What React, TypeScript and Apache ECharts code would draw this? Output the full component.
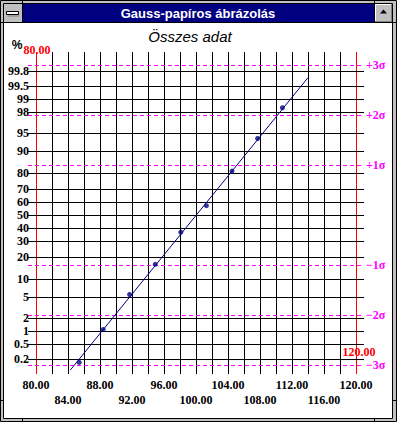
import { useEffect, useRef } from "react";
import * as echarts from "echarts";

const windowTitle = "Gauss-papíros ábrázolás";
const chartTitle = "Összes adat";
const xMin = 80;
const xMax = 120;
const xStep = 2;
const xLabelRow1 = [80, 88, 96, 104, 112, 120];
const xLabelRow2 = [84, 92, 100, 108, 116];
const probTicks = [0.2, 0.5, 1, 2, 5, 10, 20, 30, 40, 50, 60, 70, 80, 90, 95, 98, 99, 99.5, 99.8];
const sigmaLevels = [3, 2, 1, -1, -2, -3];
const sigmaLabels = ["+3σ", "+2σ", "+1σ", "−1σ", "−2σ", "−3σ"];
const pointX = [85.4, 88.4, 91.7, 94.9, 98.1, 101.3, 104.5, 107.7, 110.8];
const pointPct = [0.16, 1.1, 5.6, 16.2, 36.5, 57.4, 81.0, 93.7, 98.4];
const fitX = [84.3, 114.0];
const fitPct = [0.097, 99.7];
const zMin = -3.18;
const zMax = 3.26;

function probit(p: number): number {
  const a = [-3.969683028665376e1, 2.209460984245205e2, -2.759285104469687e2, 1.38357751867269e2, -3.066479806614716e1, 2.506628277459239];
  const b = [-5.447609879822406e1, 1.615858368580409e2, -1.556989798598866e2, 6.680131188771972e1, -1.328068155288572e1];
  const c = [-7.784894002430293e-3, -3.223964580411365e-1, -2.400758277161838, -2.549732539343734, 4.374664141464968, 2.938163982698783];
  const d = [7.784695709041462e-3, 3.224671290700398e-1, 2.445134137142996, 3.754408661907416];
  const pl = 0.02425;
  if (p < pl) {
    const q = Math.sqrt(-2 * Math.log(p));
    return (((((c[0] * q + c[1]) * q + c[2]) * q + c[3]) * q + c[4]) * q + c[5]) / ((((d[0] * q + d[1]) * q + d[2]) * q + d[3]) * q + 1);
  }
  if (p > 1 - pl) {
    const q = Math.sqrt(-2 * Math.log(1 - p));
    return -(((((c[0] * q + c[1]) * q + c[2]) * q + c[3]) * q + c[4]) * q + c[5]) / ((((d[0] * q + d[1]) * q + d[2]) * q + d[3]) * q + 1);
  }
  const q = p - 0.5;
  const r = q * q;
  return ((((((a[0] * r + a[1]) * r + a[2]) * r + a[3]) * r + a[4]) * r + a[5]) * q) / (((((b[0] * r + b[1]) * r + b[2]) * r + b[3]) * r + b[4]) * r + 1);
}

const NUM_FONT = 'bold 12px "Liberation Serif", "DejaVu Serif", serif';

export default function App() {
  const ref = useRef<HTMLDivElement>(null);
  useEffect(() => {
    if (!ref.current) return;
    const chart = echarts.init(ref.current, undefined, { renderer: "svg" });
    const nLines = Math.round((xMax - xMin) / xStep) + 1;
    const splitColors: string[] = [];
    for (let i = 0; i < nLines; i++) splitColors.push(i === 0 || i === nLines - 1 ? "#ff0000" : "#000000");

    const option: any = {
      animation: false,
      backgroundColor: "#ffffff",
      grid: { left: 36, top: 52, width: 320, height: 322, containLabel: false },
      xAxis: [
        {
          type: "value",
          min: xMin,
          max: xMax,
          interval: xStep,
          axisLine: { show: false },
          axisTick: { show: false },
          splitLine: { show: true, lineStyle: { color: splitColors, width: 1 } },
          axisLabel: {
            margin: 5,
            color: "#000",
            fontFamily: '"Liberation Serif", serif',
            fontWeight: "bold",
            fontSize: 12,
            formatter: (v: number) => (xLabelRow1.includes(v) ? v.toFixed(2) : ""),
          },
        },
        {
          type: "value",
          position: "bottom",
          offset: 15,
          min: xMin,
          max: xMax,
          interval: xStep,
          axisLine: { show: false },
          axisTick: { show: false },
          splitLine: { show: false },
          axisLabel: {
            margin: 5,
            color: "#000",
            fontFamily: '"Liberation Serif", serif',
            fontWeight: "bold",
            fontSize: 12,
            formatter: (v: number) => (xLabelRow2.includes(v) ? v.toFixed(2) : ""),
          },
        },
      ],
      yAxis: { type: "value", min: zMin, max: zMax, show: false },
      series: [
        {
          type: "custom",
          name: "grid",
          clip: false,
          silent: true,
          z: 1,
          data: probTicks.map((p) => [p]),
          renderItem: (_params: any, api: any) => {
            const p = api.value(0) as number;
            const z = probit(p / 100);
            const a = api.coord([xMin - 1, z]);
            const b = api.coord([xMax + 1, z]);
            const y = Math.round(a[1]) + 0.5;
            return {
              type: "group",
              children: [
                { type: "line", shape: { x1: Math.round(a[0]), y1: y, x2: Math.round(b[0]), y2: y }, style: { stroke: "#000", lineWidth: 1 } },
                { type: "text", x: a[0] + 1, y: a[1], style: { text: String(p), align: "right", verticalAlign: "middle", font: NUM_FONT, fill: "#000" } },
              ],
            };
          },
        },
        {
          type: "custom",
          name: "sigma",
          clip: false,
          silent: true,
          z: 2,
          data: sigmaLevels.map((s, i) => [s, i]),
          renderItem: (_params: any, api: any) => {
            const s = api.value(0) as number;
            const i = api.value(1) as number;
            const a = api.coord([xMin - 1, s]);
            const b = api.coord([xMax + 1, s]);
            const y = Math.round(a[1]) + 0.5;
            return {
              type: "group",
              children: [
                { type: "line", shape: { x1: Math.round(a[0]), y1: y, x2: Math.round(b[0]), y2: y }, style: { stroke: "#ff00ff", lineWidth: 1, lineDash: [4, 3] } },
                { type: "text", x: b[0] + 2, y: a[1], style: { text: sigmaLabels[i], align: "left", verticalAlign: "middle", font: NUM_FONT, fill: "#ff00ff" } },
              ],
            };
          },
        },
        {
          type: "line",
          name: "fit",
          z: 3,
          symbol: "none",
          lineStyle: { color: "#000080", width: 1 },
          data: fitX.map((x, i) => [x, probit(fitPct[i] / 100)]),
        },
        {
          type: "scatter",
          name: "data",
          z: 4,
          symbol: "circle",
          symbolSize: 5,
          itemStyle: { color: "#000080" },
          data: pointX.map((x, i) => [x, probit(pointPct[i] / 100)]),
        },
      ],
      graphic: [
        // outer frame
        { type: "rect", shape: { x: 1, y: 1, width: 395, height: 2 }, style: { fill: "#c0c0c0" } },
        { type: "rect", shape: { x: 1, y: 419, width: 395, height: 2 }, style: { fill: "#c0c0c0" } },
        { type: "rect", shape: { x: 1, y: 1, width: 2, height: 420 }, style: { fill: "#c0c0c0" } },
        { type: "rect", shape: { x: 393, y: 1, width: 3, height: 420 }, style: { fill: "#c0c0c0" } },
        { type: "rect", shape: { x: 0.5, y: 0.5, width: 396, height: 421 }, style: { fill: "none", stroke: "#000", lineWidth: 1 } },
        { type: "rect", shape: { x: 3.5, y: 3.5, width: 389, height: 415 }, style: { fill: "none", stroke: "#000", lineWidth: 1 } },
        { type: "line", shape: { x1: 22.5, y1: 0, x2: 22.5, y2: 4 }, style: { stroke: "#000" } },
        { type: "line", shape: { x1: 374.5, y1: 0, x2: 374.5, y2: 4 }, style: { stroke: "#000" } },
        { type: "line", shape: { x1: 22.5, y1: 418, x2: 22.5, y2: 422 }, style: { stroke: "#000" } },
        { type: "line", shape: { x1: 374.5, y1: 418, x2: 374.5, y2: 422 }, style: { stroke: "#000" } },
        { type: "line", shape: { x1: 0, y1: 22.5, x2: 4, y2: 22.5 }, style: { stroke: "#000" } },
        { type: "line", shape: { x1: 393, y1: 22.5, x2: 397, y2: 22.5 }, style: { stroke: "#000" } },
        { type: "line", shape: { x1: 0, y1: 400.5, x2: 4, y2: 400.5 }, style: { stroke: "#000" } },
        { type: "line", shape: { x1: 393, y1: 400.5, x2: 397, y2: 400.5 }, style: { stroke: "#000" } },
        // title bar
        { type: "rect", shape: { x: 4, y: 4, width: 388, height: 18 }, style: { fill: "#000080" } },
        { type: "line", shape: { x1: 3, y1: 22.5, x2: 393, y2: 22.5 }, style: { stroke: "#000" } },
        // system menu box
        { type: "rect", shape: { x: 4, y: 4, width: 18, height: 18 }, style: { fill: "#c0c0c0" } },
        { type: "line", shape: { x1: 22.5, y1: 4, x2: 22.5, y2: 22 }, style: { stroke: "#000" } },
        { type: "rect", shape: { x: 7.5, y: 15.5, width: 12, height: 1 }, style: { fill: "#808080" } },
        { type: "rect", shape: { x: 6.5, y: 11.5, width: 12, height: 3 }, style: { fill: "#ffffff", stroke: "#000", lineWidth: 1 } },
        // maximize button
        { type: "rect", shape: { x: 375, y: 4, width: 17, height: 18 }, style: { fill: "#c0c0c0" } },
        { type: "line", shape: { x1: 374.5, y1: 4, x2: 374.5, y2: 22 }, style: { stroke: "#000" } },
        { type: "line", shape: { x1: 375, y1: 4.5, x2: 391, y2: 4.5 }, style: { stroke: "#ffffff" } },
        { type: "line", shape: { x1: 375.5, y1: 4, x2: 375.5, y2: 21 }, style: { stroke: "#ffffff" } },
        { type: "line", shape: { x1: 375, y1: 21.5, x2: 392, y2: 21.5 }, style: { stroke: "#808080" } },
        { type: "line", shape: { x1: 391.5, y1: 4, x2: 391.5, y2: 22 }, style: { stroke: "#808080" } },
        { type: "polygon", shape: { points: [[380, 13.5], [387, 13.5], [383.5, 9.5]] }, style: { fill: "#000" } },
        {
          type: "text",
          x: 198,
          y: 13,
          style: { text: windowTitle, align: "center", verticalAlign: "middle", font: 'bold 13px "Liberation Sans", Arial, sans-serif', fill: "#ffffff" },
        },
        // chart texts
        {
          type: "text",
          x: 190,
          y: 36,
          style: { text: chartTitle, align: "center", verticalAlign: "middle", font: 'italic 15px "Liberation Sans", Arial, sans-serif', fill: "#000" },
        },
        { type: "text", x: 17, y: 45, style: { text: "%", align: "center", verticalAlign: "middle", font: 'bold 12px "Liberation Sans", Arial, sans-serif', fill: "#000" } },
        { type: "text", x: 37, y: 50, style: { text: xMin.toFixed(2), align: "center", verticalAlign: "middle", font: NUM_FONT, fill: "#ff0000" } },
        { type: "text", x: 359, y: 352, style: { text: xMax.toFixed(2), align: "center", verticalAlign: "middle", font: NUM_FONT, fill: "#ff0000" } },
      ],
    };
    chart.setOption(option);
    return () => chart.dispose();
  }, []);
  return <div ref={ref} style={{ position: "absolute", left: 0, top: 0, width: 397, height: 422 }} />;
}
